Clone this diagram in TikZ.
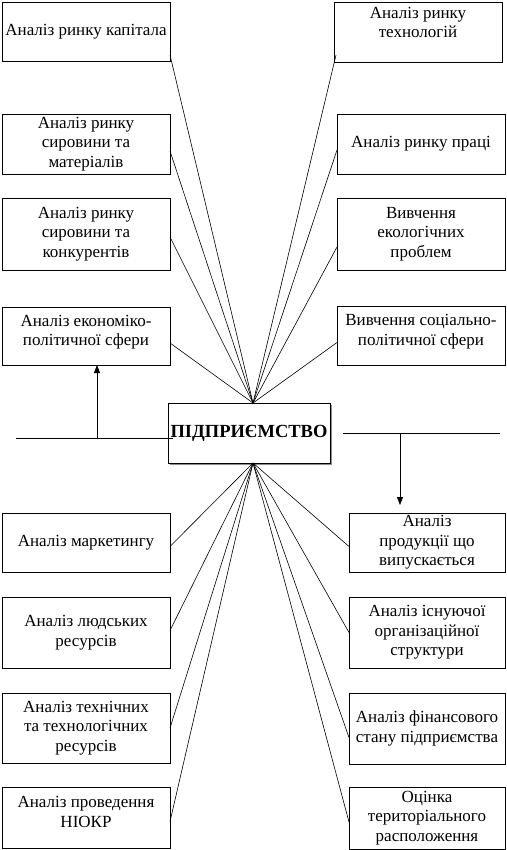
\documentclass[tikz,border=0pt]{standalone}
\usepackage{fontspec}
\setmainfont{Liberation Serif}
\usetikzlibrary{arrows.meta, calc, shadows}

\newcommand{\boxfont}{\fontsize{17}{19.5}\selectfont}
\newcommand{\firmfont}{\bfseries\fontsize{18.5}{20}\selectfont}

\begin{document}
\begin{tikzpicture}[
    x=1pt, y=-1pt,
    every node/.style={inner sep=1pt, outer sep=0pt},
    box/.style={draw, line width=0.8pt, anchor=north west, align=center,
                minimum width=168pt, minimum height=60pt, font=\boxfont},
    nbox/.style={box, minimum width=156pt},
    firm/.style={draw, line width=0.8pt, fill=white, inner sep=0pt,
                 minimum width=162pt, minimum height=60pt, font=\firmfont,
                 drop shadow={shadow xshift=2pt, shadow yshift=-2pt,
                              fill=black!45, opacity=1}},
    spoke/.style={line width=0.6pt},
    bus/.style={line width=0.8pt},
    arr/.style={-{Triangle[length=8pt, width=6pt]}, line width=0.8pt},
]
    \useasboundingbox (0,0) rectangle (506,850);

    % the enterprise in the middle
    \node[firm] (firm) at (249,433) {ПІДПРИЄМСТВО};
    \coordinate (hubN) at ([xshift=4pt]firm.north);
    \coordinate (hubS) at ([xshift=4pt]firm.south);

    % upper left column
    \node[box, minimum height=59pt] (cap) at (2,2) {Аналіз ринку капітала};
    \node[box] (mat) at (2,114) {Аналіз ринку\\сировини та\\матеріалів};
    \node[box, minimum height=72pt] (konk) at (2,198) {Аналіз ринку\\сировини та\\конкурентів};
    \node[box, minimum height=58pt] (ekon) at (2,307) {Аналіз економіко-\\політичної сфери\\[-8pt]\mbox{}};

    % upper right column
    \node[box] (tech) at (334,2) {Аналіз ринку\\технологій\\\mbox{}};
    \node[box] (prac) at (337,114) {Аналіз ринку праці};
    \node[box, minimum height=72pt] (ekol) at (337,198) {Вивчення\\екологічних\\проблем};
    \node[box, minimum height=59pt] (soc) at (337,306) {Вивчення соціально-\\політичної сфери\\[-8pt]\mbox{}};

    % lower left column
    \node[box, minimum height=59pt] (mark) at (2,513) {Аналіз маркетингу};
    \node[box, minimum height=71pt] (lyud) at (2,597) {Аналіз людських\\ресурсів};
    \node[box, minimum height=70pt] (tekhn) at (2,693) {Аналіз технічних\\та технологічних\\ресурсів};
    \node[box, minimum height=61pt] (niokr) at (2,787) {Аналіз проведення\\НІОКР\\[-8pt]\mbox{}};

    % lower right column
    \node[nbox, minimum height=59pt] (prod) at (349,513) {Аналіз\\продукції що\\випускається};
    \node[nbox, minimum height=71pt] (org) at (349,597) {Аналіз існуючої\\організаційної\\структури};
    \node[nbox, minimum height=71pt] (fin) at (349,693) {Аналіз фінансового\\стану підприємства};
    \node[nbox, minimum height=62pt] (ter) at (349,787) {Оцінка\\територіального\\расположення};

    % spokes to the top of the enterprise
    \draw[spoke] ([yshift=6pt]cap.south east) -- (hubN);
    \draw[spoke] ([yshift=-7pt]mat.east) -- (hubN);
    \draw[spoke] ([yshift=-3pt]konk.east) -- (hubN);
    \draw[spoke] ([yshift=-7pt]ekon.east) -- (hubN);
    \draw[spoke] ([xshift=2pt, yshift=7pt]tech.south west) -- (hubN);
    \draw[spoke] ([yshift=-6pt]prac.west) -- (hubN);
    \draw[spoke] ([yshift=-13pt]ekol.west) -- (hubN);
    \draw[spoke] ([yshift=-7pt]soc.west) -- (hubN);

    % spokes from the bottom of the enterprise
    \draw[spoke] (hubS) -- ([yshift=-4pt]mark.east);
    \draw[spoke] (hubS) -- ([yshift=2pt]lyud.east);
    \draw[spoke] (hubS) -- (tekhn.east);
    \draw[spoke] (hubS) -- ([yshift=-4pt]niokr.east);
    \draw[spoke] (hubS) -- ([yshift=-4pt]prod.west);
    \draw[spoke] (hubS) -- (org.west);
    \draw[spoke] (hubS) -- ([yshift=-9pt]fin.west);
    \draw[spoke] (hubS) -- ([yshift=-4pt]ter.west);

    % left bus with arrow up
    \coordinate (busL) at (16,438);
    \coordinate (tapL) at (97,438);
    \draw[bus] (busL) -- ($(busL -| firm.west)+(5,0)$);
    \draw[arr] (tapL) -- (tapL |- ekon.south);

    % right bus with arrow down
    \coordinate (busR) at (343,433);
    \coordinate (endR) at (500,433);
    \coordinate (tapR) at (400,433);
    \draw[bus] (busR) -- (endR);
    \draw[arr] (tapR) -- ($(tapR |- prod.north)+(0,-8)$);
\end{tikzpicture}
\end{document}
